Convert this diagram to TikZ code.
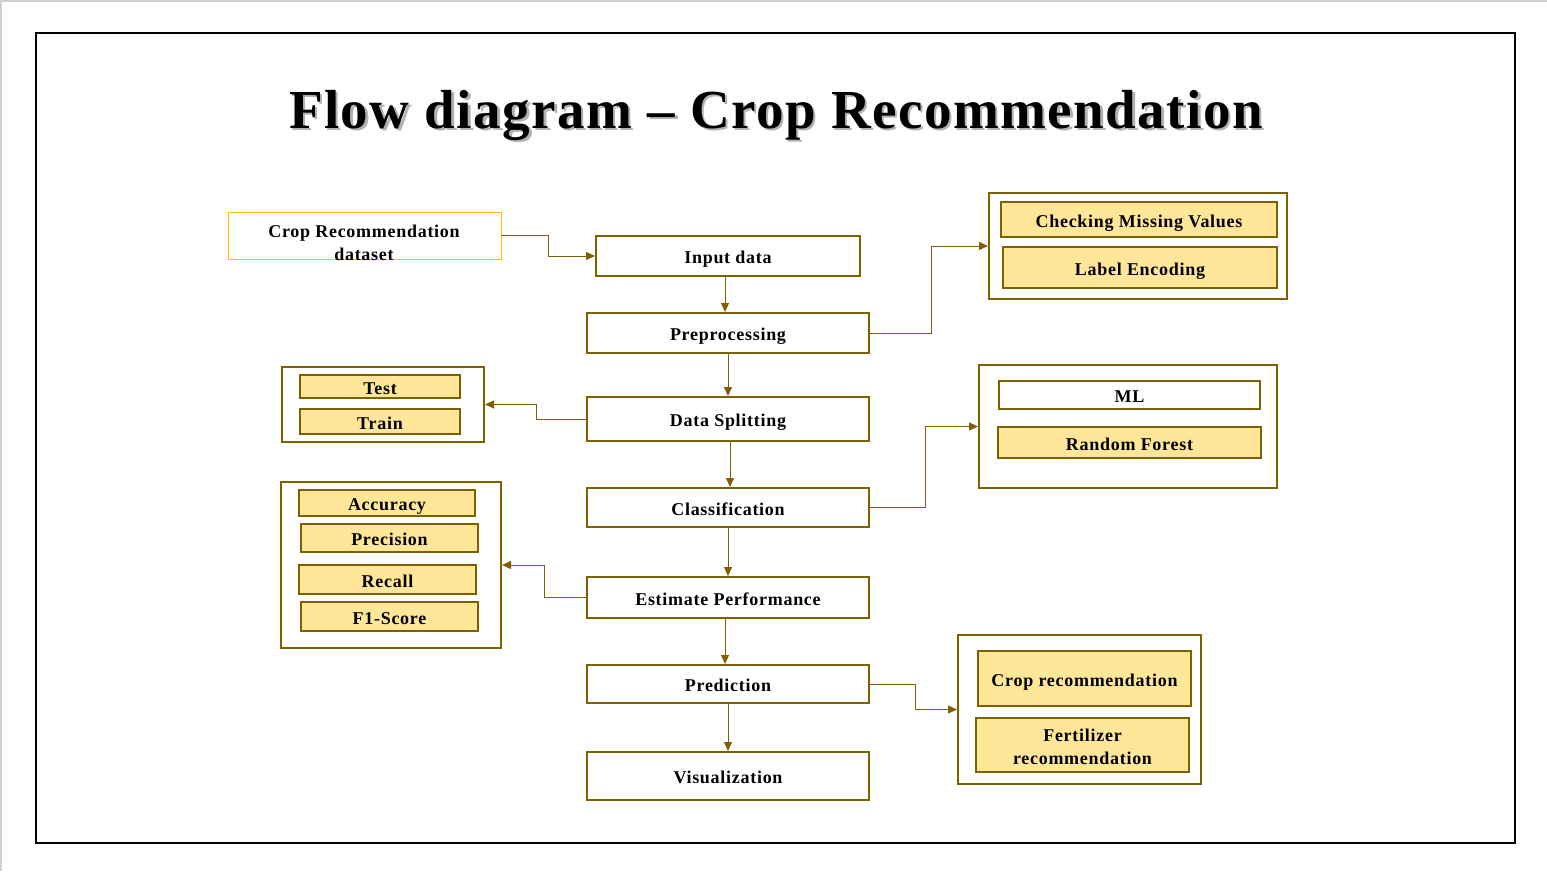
\documentclass[tikz,border=0pt]{standalone}
\usepackage{fontspec}
\setmainfont{Liberation Serif}
\newfontfamily\boxfont[LetterSpace=4]{Liberation Serif}
\newfontfamily\titlefont[LetterSpace=2.7]{Liberation Serif}
\usetikzlibrary{positioning, arrows.meta, calc}
\definecolor{frameBrown}{HTML}{7F6000}
\definecolor{boxGold}{HTML}{FFE699}
\definecolor{lineGold}{HTML}{FFC000}
\begin{document}
\begin{tikzpicture}[x=1pt, y=-1pt, font=\boxfont\bfseries\fontsize{18}{23}\selectfont,
  >={Triangle[length=9pt, width=8pt]},
  every node/.append style={text height=17pt, text depth=2pt},
  twoline/.style={text height=40pt, text depth=2pt},
  mainbox/.style={draw=frameBrown, line width=2pt, fill=white, inner sep=0pt, align=center},
  subbox/.style={draw=frameBrown, line width=2pt, fill=boxGold, inner sep=0pt, align=center},
  grpbox/.style={draw=frameBrown, line width=2pt, inner sep=0pt},
  conn/.style={->, draw=frameBrown, line width=1pt},
  heading/.style={font=\titlefont\bfseries\fontsize{55}{60}\selectfont, anchor=base, text height=, text depth=},
]
  \useasboundingbox (0,0) rectangle (1547,871);
  \draw[black!18, line width=1.2pt] (0,1) -- (1547,1) (1,0) -- (1,871);
  \draw[black, line width=2pt] (36,33) rectangle (1515,843);
  % title with its shadow
  \node[heading, text=black!30] (titleshadow) at (778.5,130.5) {Flow diagram \textendash{} Crop Recommendation};
  \node[heading] (title) at (776,128) {Flow diagram \textendash{} Crop Recommendation};
  % dataset
  \node[draw=lineGold, line width=0.8pt, minimum width=273pt, minimum height=47pt] (data) at (364.5,235.5) {};
  \node[twoline, align=center, inner sep=0pt] (datatxt) at (364,241) {Crop Recommendation\\dataset};
  % main column
  \foreach \xn/\xx/\xy/\xw/\xh/\xtxt in {%
    input/728/256/264/40/{Input data},%
    prep/728/333/282/40/{Preprocessing},%
    split/728/419/282/44/{Data Splitting},%
    cls/728/507.5/282/39/{Classification},%
    est/728/597.5/282/41/{Estimate Performance},%
    pred/728/684/282/38/{Prediction},%
    vis/728/776/282/48/{Visualization}%
  } {
    \node[mainbox, minimum width=\xw pt, minimum height=\xh pt] (\xn) at (\xx,\xy) {\xtxt};
  }
  % group frames
  \foreach \xn/\xx/\xy/\xw/\xh in {%
    pgroup/1138/246/298/106,%
    cgroup/1128/426.5/298/123,%
    rgroup/1079.5/709.5/243/149,%
    sgroup/383/404.5/202/75,%
    mgroup/391/565/220/166%
  } {
    \node[grpbox, minimum width=\xw pt, minimum height=\xh pt] (\xn) at (\xx,\xy) {};
  }
  % items inside the groups
  \foreach \xn/\xx/\xy/\xw/\xh/\xtxt in {%
    missing/1139/219.5/276/35/{Checking Missing Values},%
    encoding/1140/267.5/274/41/{Label Encoding},%
    forest/1129.5/442.5/263/31/{Random Forest},%
    croprec/1084.5/678.5/213/55/{Crop recommendation},%
    test/380/386.5/160/23/{Test},%
    train/380/421.5/160/25/{Train},%
    accuracy/387/503/176/26/{Accuracy},%
    precision/389.5/538/177/28/{Precision},%
    recall/387.5/579.5/177/29/{Recall},%
    fscore/389.5/616.5/177/29/{F1-Score}%
  } {
    \node[subbox, minimum width=\xw pt, minimum height=\xh pt] (\xn) at (\xx,\xy) {\xtxt};
  }
  \node[subbox, twoline, minimum width=213pt, minimum height=54pt] (fertrec) at (1082.5,745) {Fertilizer\\recommendation};
  \node[mainbox, minimum width=261pt, minimum height=28pt] (ml) at (1129.5,395) {ML};
  % connectors
  \draw[conn] (data.east) -- ++(47,0) |- (input.west);
  \draw[conn] ([xshift=-3pt]input.south) -- ([xshift=-3pt]input.south |- prep.north);
  \draw[conn] (prep.east) -- ++(61,0) |- (pgroup.west);
  \draw[conn] (prep.south) -- (split.north);
  \draw[conn] (split.west) -- ++(-50,0) |- (sgroup.east);
  \draw[conn] ([xshift=2pt]split.south) -- ([xshift=2pt]split.south |- cls.north);
  \draw[conn] (cls.east) -- ++(55,0) |- (cgroup.west);
  \draw[conn] (cls.south) -- (est.north);
  \draw[conn] (est.west) -- ++(-42,0) |- (mgroup.east);
  \draw[conn] ([xshift=-3pt]est.south) -- ([xshift=-3pt]est.south |- pred.north);
  \draw[conn] (pred.east) -- ++(45,0) |- (rgroup.west);
  \draw[conn] (pred.south) -- (vis.north);
\end{tikzpicture}
\end{document}
